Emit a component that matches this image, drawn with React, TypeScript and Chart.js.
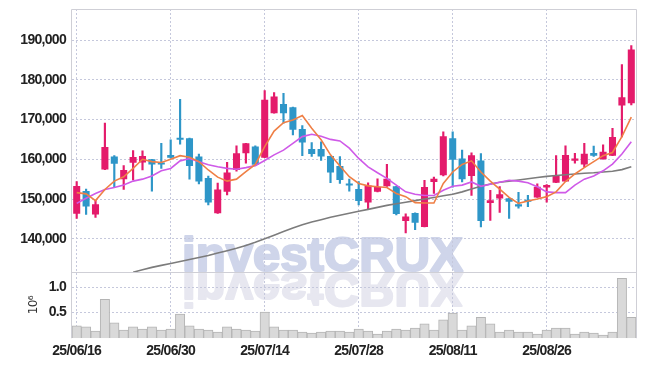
import React, { useEffect, useRef } from 'react';
import { Chart, registerables } from 'chart.js';

Chart.register(...registerables);

const dates = [
  '25/06/16', '25/06/17', '25/06/18', '25/06/19', '25/06/20', '25/06/23', '25/06/24', '25/06/25', '25/06/26', '25/06/27',
  '25/06/30', '25/07/01', '25/07/02', '25/07/03', '25/07/04', '25/07/07', '25/07/08', '25/07/09', '25/07/10', '25/07/11',
  '25/07/14', '25/07/15', '25/07/16', '25/07/17', '25/07/18', '25/07/21', '25/07/22', '25/07/23', '25/07/24', '25/07/25',
  '25/07/28', '25/07/29', '25/07/30', '25/07/31', '25/08/01', '25/08/04', '25/08/05', '25/08/06', '25/08/07', '25/08/08',
  '25/08/11', '25/08/12', '25/08/13', '25/08/14', '25/08/18', '25/08/19', '25/08/20', '25/08/21', '25/08/22', '25/08/25',
  '25/08/26', '25/08/27', '25/08/28', '25/08/29', '25/09/01', '25/09/02', '25/09/03', '25/09/04', '25/09/05', '25/09/08',
];

const opens = [
  146300, 152000, 146100, 157400, 160700, 155000, 159100, 159200, 160000, 158900,
  161100, 165100, 165300, 160700, 155300, 146400, 151800, 157300, 161500, 163200,
  160400, 171600, 173900, 173100, 167600, 162600, 162600, 160800, 158300, 153700,
  152500, 149100, 151800, 153200, 153200, 144500, 146500, 142950, 154300, 156000,
  165300, 160200, 155800, 159700, 149000, 150100, 150200, 148700, 149500, 150400,
  152900, 154100, 154400, 159600, 158700, 161600, 160000, 160900, 173500, 174100,
];
const highs = [
  154400, 152500, 149700, 169100, 160900, 158400, 162200, 162100, 160000, 164000,
  164900, 175100, 165300, 161300, 155800, 154000, 159200, 163400, 164000, 163400,
  177300, 176800, 176600, 173100, 168500, 164200, 164400, 160800, 160700, 155000,
  154400, 154100, 155100, 158700, 153200, 146300, 146500, 154700, 155500, 166900,
  166900, 162300, 161600, 161400, 152200, 153100, 150200, 151700, 150900, 153800,
  153600, 160900, 163400, 161500, 164000, 163300, 163600, 167800, 183800, 188600,
];
const lows = [
  145100, 146100, 145400, 157400, 153100, 152400, 154800, 157300, 152000, 157700,
  160300, 163800, 155000, 153800, 148500, 146400, 151000, 157000, 159000, 158400,
  160400, 171600, 169100, 166100, 160900, 160700, 159700, 154100, 153900, 152000,
  148500, 147500, 151800, 153200, 146000, 141500, 142300, 142950, 151400, 155800,
  153000, 154300, 150900, 143000, 144600, 146600, 145100, 147700, 148100, 150400,
  149200, 154100, 154400, 159000, 158000, 160700, 160000, 160900, 165600, 173700,
];
const closes = [
  153270, 148100, 148700, 163100, 158900, 157300, 160600, 160800, 158700, 158700,
  160400, 164900, 158300, 154400, 149100, 152400, 156700, 161500, 164000, 158600,
  175000, 175800, 171600, 167400, 164200, 161300, 160700, 156700, 154800, 153400,
  149500, 153400, 153000, 155100, 146200, 145600, 144000, 153000, 155100, 165800,
  159900, 155000, 161000, 144500, 149700, 151200, 149300, 148100, 149300, 153100,
  153500, 155900, 161100, 160200, 161400, 160900, 161900, 165600, 175600, 187600,
];

// volume, in units of 10^6 shares
const volumes = [
  0.24, 0.22, 0.14, 0.76, 0.30, 0.16, 0.22, 0.18, 0.22, 0.16,
  0.18, 0.47, 0.24, 0.18, 0.16, 0.12, 0.22, 0.18, 0.16, 0.14,
  0.51, 0.22, 0.16, 0.16, 0.12, 0.10, 0.12, 0.14, 0.14, 0.12,
  0.18, 0.14, 0.08, 0.14, 0.18, 0.16, 0.20, 0.28, 0.16, 0.36,
  0.49, 0.16, 0.24, 0.41, 0.28, 0.12, 0.16, 0.12, 0.12, 0.08,
  0.16, 0.20, 0.20, 0.08, 0.12, 0.10, 0.06, 0.12, 1.17, 0.41,
];

const ma5 = [
  151600, 151300, 149600, 152400, 154500, 155600, 157700, 160000, 159400, 159200,
  160000, 160900, 160500, 159400, 157300, 155500, 154500, 155000, 156900, 158700,
  163200, 167100, 169200, 169900, 171000, 167800, 164900, 161100, 158300, 155600,
  153900, 153300, 153100, 152900, 151400, 150600, 149100, 149000, 149000, 153900,
  156800, 158700, 159600, 156800, 154500, 152500, 150400, 148900, 149500, 150000,
  150600, 151800, 154400, 156300, 157900, 159400, 160900, 161700, 165700, 170600,
];
const ma10 = [
  148900, 150200, 151400, 152400, 152900, 153500, 154500, 155000, 155800, 157100,
  157700, 159600, 160200, 159400, 158600, 158100, 157700, 157500, 157900, 158400,
  159700, 161100, 162300, 164000, 165700, 166300, 165800, 165000, 164600, 162800,
  160200, 158100, 156600, 155200, 153500, 151800, 151200, 150900, 150900, 152200,
  153200, 153500, 154300, 153200, 153700, 154200, 154700, 154500, 154100, 153100,
  151800, 151600, 151600, 153500, 155000, 155800, 157100, 158800, 161300, 164400,
];
const ma60 = [
  null, null, null, null, null, null, 131600, 132200, 132800, 133300,
  133800, 134300, 134800, 135300, 135800, 136400, 137000, 137600, 138300, 139100,
  140000, 140900, 141800, 142700, 143500, 144200, 144800, 145400, 145900, 146400,
  146900, 147400, 147900, 148400, 148800, 149200, 149600, 150000, 150400, 150800,
  151200, 151800, 152500, 153200, 153800, 154200, 154500, 154800, 155100, 155400,
  155700, 155900, 156100, 156300, 156500, 156600, 156800, 157000, 157400, 158100,
];

const UP = '#e41b6b';
const DOWN = '#2e96c8';
const GRID = '#c5c8dc';
const FRAME = '#cfcfd6';
const TICK_FONT = { family: "'Liberation Sans', Arial, sans-serif", size: 14, weight: 'bold' as const };

const watermarkPlugin = {
  id: 'watermark',
  beforeDraw(chart: any) {
    const { ctx } = chart;
    const py = chart.scales.y;
    const vy = chart.scales.yv;
    const base = py.bottom;
    const text = 'investCRUX';
    const cx = chart.width / 2;
    ctx.save();
    ctx.letterSpacing = '0px';
    ctx.font = "bold 48px 'Liberation Sans', Arial, sans-serif";
    ctx.textAlign = 'center';
    ctx.textBaseline = 'alphabetic';
    ctx.lineJoin = 'round';
    const w = ctx.measureText(text).width;
    const sx = 281 / w;
    ctx.save();
    ctx.translate(cx, base - 1);
    ctx.scale(sx, 1);
    ctx.fillStyle = 'rgb(207, 213, 234)';
    ctx.strokeStyle = 'rgb(207, 213, 234)';
    ctx.lineWidth = 2.2;
    ctx.fillText(text, 0, 0);
    ctx.strokeText(text, 0, 0);
    ctx.restore();
    ctx.save();
    ctx.beginPath();
    ctx.rect(chart.chartArea.left, vy.top + 1, chart.chartArea.right - chart.chartArea.left, vy.bottom - vy.top);
    ctx.clip();
    ctx.translate(cx, base + 1);
    ctx.scale(sx, -1);
    ctx.fillStyle = 'rgb(231, 231, 240)';
    ctx.strokeStyle = 'rgb(231, 231, 240)';
    ctx.lineWidth = 2.2;
    ctx.fillText(text, 0, 0);
    ctx.strokeText(text, 0, 0);
    ctx.restore();
    ctx.restore();
    // tighter tracking for the axis labels, which are drawn after this hook
    ctx.letterSpacing = '-0.7px';
  },
  afterDraw(chart: any) {
    chart.ctx.letterSpacing = '0px';
  },
};

const framePlugin = {
  id: 'frame',
  afterDraw(chart: any) {
    const { ctx, chartArea } = chart;
    const py = chart.scales.y;
    ctx.save();
    ctx.strokeStyle = FRAME;
    ctx.lineWidth = 1;
    ctx.beginPath();
    ctx.moveTo(chartArea.left - 0.5, chartArea.bottom);
    ctx.lineTo(chartArea.left - 0.5, chartArea.top + 0.5);
    ctx.lineTo(chartArea.right + 0.5, chartArea.top + 0.5);
    ctx.lineTo(chartArea.right + 0.5, chartArea.bottom);
    ctx.moveTo(chartArea.left, Math.round(py.bottom) + 0.5);
    ctx.lineTo(chartArea.right, Math.round(py.bottom) + 0.5);
    ctx.stroke();
    ctx.restore();
  },
};

const fitY = (s: any) => {
  s.width = 64;
  s.paddingTop = 0;
  s.paddingBottom = 0;
};

export default function App() {
  const canvasRef = useRef<HTMLCanvasElement | null>(null);

  useEffect(() => {
    if (!canvasRef.current) return;
    const candleColors = opens.map((o, i) => (closes[i] >= o ? UP : DOWN));
    const chart = new Chart(canvasRef.current, {
      type: 'bar',
      data: {
        labels: dates,
        datasets: [
          {
            type: 'line', label: 'MA5', data: ma5, yAxisID: 'y', borderColor: '#ef7f45',
            borderWidth: 1.6, pointRadius: 0, tension: 0, order: 0,
          } as any,
          {
            type: 'line', label: 'MA10', data: ma10, yAxisID: 'y', borderColor: '#cf5ae8',
            borderWidth: 1.6, pointRadius: 0, tension: 0, order: 0,
          },
          {
            type: 'line', label: 'MA60', data: ma60, yAxisID: 'y', borderColor: '#7c7c7c',
            borderWidth: 1.6, pointRadius: 0, tension: 0, order: 0,
          },
          {
            type: 'bar', label: 'body', data: opens.map((o, i) => [o, closes[i]]), yAxisID: 'y',
            backgroundColor: candleColors, barPercentage: 0.75, categoryPercentage: 1,
            grouped: false, minBarLength: 2, order: 1,
          },
          {
            type: 'bar', label: 'wick', data: lows.map((l, i) => [l, highs[i]]), yAxisID: 'y',
            backgroundColor: candleColors, barThickness: 1.5, grouped: false, order: 2,
          },
          {
            type: 'bar', label: 'volume', data: volumes, yAxisID: 'yv',
            backgroundColor: '#d9d9d9', borderColor: '#b4b4b4', borderWidth: 1,
            barPercentage: 1, categoryPercentage: 1, grouped: false, order: 3,
          },
        ],
      },
      options: {
        animation: false,
        responsive: false,
        layout: { padding: { left: 8, right: 9, top: 9, bottom: 1 } },
        plugins: { legend: { display: false }, tooltip: { enabled: false } },
        scales: {
          x: {
            type: 'category',
            offset: true,
            grid: {
              offset: false,
              drawTicks: false,
              color: (c: any) => (c.index % 10 === 0 ? GRID : 'rgba(0,0,0,0)'),
            },
            border: { display: false, dash: [2, 2] },
            ticks: {
              autoSkip: false, maxRotation: 0, padding: 5, color: '#222', font: TICK_FONT,
              callback: (_v: any, i: number) => (i % 10 === 0 ? dates[i] : ''),
            },
          },
          yv: {
            type: 'linear', position: 'left', stack: 'panels', stackWeight: 66,
            min: 0, max: 1.29,
            afterBuildTicks: (s: any) => { s.ticks = [{ value: 0.5 }, { value: 1 }]; },
            afterFit: fitY,
            grid: { color: GRID, drawTicks: false },
            border: { display: false, dash: [2, 2] },
            title: {
              display: true, text: '10⁶', color: '#333', padding: { top: 19, bottom: 0 },
              font: { family: "'DejaVu Sans', sans-serif", size: 12 },
            },
            ticks: {
              padding: 6, color: '#222', font: TICK_FONT,
              callback: (v: any) => Number(v).toFixed(1),
            },
          },
          y: {
            type: 'linear', position: 'left', stack: 'panels', stackWeight: 263,
            min: 131600, max: 197800,
            afterBuildTicks: (s: any) => { s.ticks = s.ticks.filter((t: any) => t.value % 10000 === 0); },
            afterFit: fitY,
            grid: { color: GRID, drawTicks: false },
            border: { display: false, dash: [2, 2] },
            ticks: {
              padding: 6, color: '#222', font: TICK_FONT,
              callback: (v: any) => Number(v).toLocaleString('en-US'),
            },
          },
        },
      } as any,
      plugins: [watermarkPlugin, framePlugin],
    });
    return () => chart.destroy();
  }, []);

  return (
    <div style={{ position: 'absolute', left: 0, top: 0, width: 645, height: 366, background: '#fff' }}>
      <canvas ref={canvasRef} width={645} height={366} style={{ display: 'block' }} />
    </div>
  );
}
